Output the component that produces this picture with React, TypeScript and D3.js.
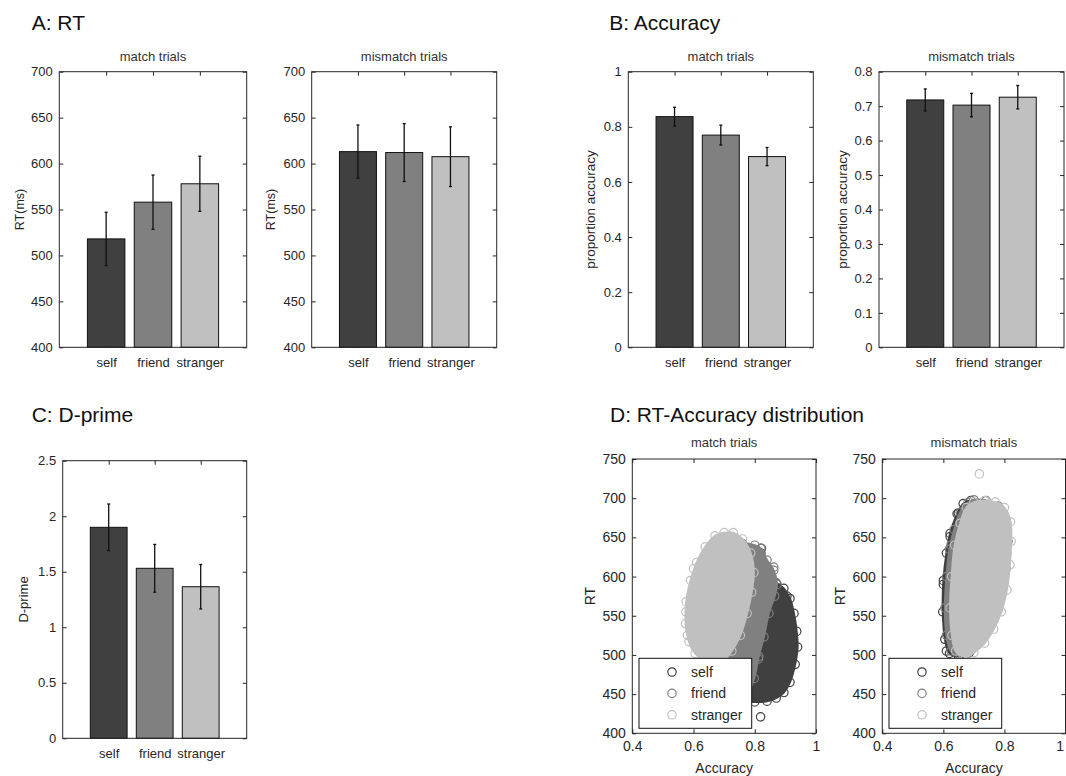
import React, { useRef, useEffect } from "react";
import * as d3 from "d3";

const groups = ["self", "friend", "stranger"];
const groupColors = ["#404040", "#808080", "#c0c0c0"];

// A: RT (ms)
const rtTicks = [400, 450, 500, 550, 600, 650, 700];
const rtMatch = [518, 558, 578];
const rtMatchErr = [29, 29.5, 30];
const rtMismatch = [613, 612, 607.5];
const rtMismatchErr = [29, 31.5, 32.5];

// B: accuracy
const accTicks = [0, 0.2, 0.4, 0.6, 0.8, 1];
const accMisTicks = [0, 0.1, 0.2, 0.3, 0.4, 0.5, 0.6, 0.7, 0.8];
const accMatch = [0.837, 0.77, 0.692];
const accMatchErr = [0.034, 0.036, 0.033];
const accMismatch = [0.718, 0.703, 0.726];
const accMismatchErr = [0.032, 0.034, 0.034];

// C: d-prime
const dprimeTicks = [0, 0.5, 1, 1.5, 2, 2.5];
const dprime = [1.9, 1.531, 1.365];
const dprimeErr = [0.21, 0.215, 0.2];

// D: scatter, cloud outlines [accuracy, RT]
const scatterRtTicks = [400, 450, 500, 550, 600, 650, 700, 750];
const scatterAccTicks = [0.4, 0.6, 0.8, 1];

const matchSelf = [
  [0.87, 592], [0.895, 585], [0.915, 572], [0.928, 553], [0.937, 530], [0.94, 510],
  [0.932, 488], [0.915, 465], [0.895, 452], [0.87, 445], [0.84, 441], [0.8, 440],
  [0.77, 442], [0.745, 452], [0.73, 475], [0.74, 510], [0.77, 550], [0.81, 578], [0.845, 592],
];
const matchFriend = [
  [0.8, 640], [0.82, 636], [0.84, 621], [0.862, 608], [0.873, 590], [0.865, 575],
  [0.846, 553], [0.83, 523], [0.813, 498], [0.798, 470], [0.775, 450], [0.745, 443],
  [0.71, 448], [0.68, 465], [0.66, 495], [0.65, 530], [0.655, 570], [0.68, 605], [0.72, 630], [0.76, 642],
];
const matchStranger = [
  [0.7, 656], [0.73, 656], [0.76, 648], [0.787, 630], [0.797, 605], [0.79, 580],
  [0.775, 553], [0.753, 525], [0.725, 505], [0.7, 494], [0.67, 490], [0.635, 493],
  [0.605, 502], [0.585, 517], [0.574, 540], [0.576, 568], [0.59, 595], [0.61, 618], [0.638, 638], [0.67, 652],
];
const matchOutliers = [
  [[0.819, 421], [0.822, 636], [0.82, 630], [0.905, 575]],
  [[0.812, 495], [0.862, 612]],
  [[0.575, 555], [0.58, 525], [0.6, 610]],
];

const misSelf = [
  [0.69, 697], [0.73, 693], [0.77, 685], [0.795, 668], [0.8, 640], [0.795, 605],
  [0.78, 570], [0.755, 540], [0.72, 518], [0.685, 503], [0.65, 498], [0.62, 502],
  [0.605, 520], [0.598, 555], [0.6, 595], [0.61, 630], [0.622, 655], [0.645, 680], [0.665, 693],
];
const misFriend = [
  [0.7, 698], [0.74, 697], [0.78, 690], [0.805, 672], [0.812, 645], [0.805, 610],
  [0.79, 575], [0.765, 545], [0.73, 522], [0.69, 506], [0.655, 500], [0.625, 505],
  [0.61, 525], [0.605, 560], [0.61, 600], [0.62, 635], [0.635, 660], [0.655, 682], [0.68, 694],
];
const misStranger = [
  [0.7, 695], [0.735, 697], [0.77, 695], [0.8, 688], [0.82, 670], [0.822, 645],
  [0.818, 615], [0.808, 583], [0.79, 555], [0.765, 533], [0.735, 515], [0.7, 503],
  [0.665, 498], [0.64, 505], [0.628, 525], [0.622, 560], [0.627, 600], [0.637, 640], [0.655, 668], [0.675, 688],
];
const misOutliers = [
  [[0.649, 681], [0.622, 651], [0.6, 590], [0.61, 505]],
  [[0.625, 640], [0.62, 545]],
  [[0.718, 731], [0.68, 503]],
];

const FONT = "'Liberation Sans', Arial, sans-serif";
const INK = "#262626";

const styleAxis = (sel, size) => {
  sel.select(".domain").remove();
  sel.selectAll("line").attr("stroke", INK).attr("stroke-width", 1);
  sel
    .selectAll("text")
    .attr("font-size", size)
    .attr("font-family", FONT)
    .attr("fill", INK);
};

// inward ticks on all four sides, MATLAB style
const drawAxes = (g, x, y, xticks, xlabels, yticks, fs, xfs, xPad) => {
  const [x0, x1] = x.range();
  const [y1, y0] = y.range();
  g.append("g")
    .attr("transform", `translate(${x0},0)`)
    .call(d3.axisLeft(y).tickValues(yticks).tickSizeInner(-4).tickSizeOuter(0).tickPadding(6.5).tickFormat((d) => String(d)))
    .call((s) => styleAxis(s, fs));
  g.append("g")
    .attr("transform", `translate(${x1},0)`)
    .call(d3.axisRight(y).tickValues(yticks).tickSizeInner(-4).tickSizeOuter(0).tickFormat(() => ""))
    .call((s) => styleAxis(s, fs));
  g.append("g")
    .attr("transform", `translate(0,${y0})`)
    .call(d3.axisTop(x).tickValues(xticks).tickSizeInner(-4).tickSizeOuter(0).tickFormat(() => ""))
    .call((s) => styleAxis(s, fs));
  const bx = g
    .append("g")
    .attr("transform", `translate(0,${y1})`)
    .call(d3.axisBottom(x).tickValues(xticks).tickSizeInner(-4).tickSizeOuter(0).tickPadding(xPad).tickFormat((d, i) => xlabels[i]))
    .call((s) => styleAxis(s, xfs));
  // keep a label at the page's right edge inside the page
  bx.selectAll(".tick").each(function () {
    const t = d3.select(this);
    const tx = +t.attr("transform").match(/translate\(([-\d.]+)/)[1];
    if (tx > 1058) t.select("text").attr("text-anchor", "end").attr("x", 1064 - tx);
  });
};

const drawBox = (g, x, y) => {
  const [x0, x1] = x.range();
  const [y1, y0] = y.range();
  g.append("rect")
    .attr("x", x0)
    .attr("y", y0)
    .attr("width", x1 - x0)
    .attr("height", y1 - y0)
    .attr("fill", "none")
    .attr("stroke", INK)
    .attr("stroke-width", 1);
};

const drawTitle = (g, x, y, text, dy) => {
  const [x0, x1] = x.range();
  const [, y0] = y.range();
  g.append("text")
    .attr("x", (x0 + x1) / 2)
    .attr("y", y0 - dy)
    .attr("text-anchor", "middle")
    .attr("font-family", FONT)
    .attr("font-size", 13)
    .attr("fill", "#333")
    .text(text);
};

const drawYLabel = (g, cx, cy, text, size) => {
  g.append("text")
    .attr("transform", `translate(${cx},${cy}) rotate(-90)`)
    .attr("text-anchor", "middle")
    .attr("dy", "0.35em")
    .attr("font-family", FONT)
    .attr("font-size", size)
    .attr("fill", INK)
    .text(text);
};

const drawBarPanel = (svg, p) => {
  const [left, top, right, bottom] = p.box;
  const x = d3.scaleLinear().domain([0, 4]).range([left, right]);
  const y = d3.scaleLinear().domain(p.ylim).range([bottom, top]);
  const g = svg.append("g");
  const bw = x(0.8) - x(0);

  drawAxes(g, x, y, [1, 2, 3], groups, p.yticks, 13, 13, 10);

  g.selectAll("rect.bar")
    .data(p.values)
    .join("rect")
    .attr("class", "bar")
    .attr("x", (d, i) => x(i + 1) - bw / 2)
    .attr("y", (d) => y(d))
    .attr("width", bw)
    .attr("height", (d) => y(p.ylim[0]) - y(d))
    .attr("fill", (d, i) => groupColors[i])
    .attr("stroke", "#111")
    .attr("stroke-width", 1);

  const eb = g
    .selectAll("g.err")
    .data(p.values)
    .join("g")
    .attr("class", "err")
    .attr("stroke", "#111")
    .attr("stroke-width", 1.3);
  eb.append("line")
    .attr("x1", (d, i) => x(i + 1))
    .attr("x2", (d, i) => x(i + 1))
    .attr("y1", (d, i) => y(d - p.errors[i]))
    .attr("y2", (d, i) => y(d + p.errors[i]));
  [-1, 1].forEach((s) => {
    eb.append("line")
      .attr("x1", (d, i) => x(i + 1) - 1.5)
      .attr("x2", (d, i) => x(i + 1) + 1.5)
      .attr("y1", (d, i) => y(d + s * p.errors[i]))
      .attr("y2", (d, i) => y(d + s * p.errors[i]));
  });

  drawBox(g, x, y);
  if (p.title) drawTitle(g, x, y, p.title, 10.5);
  drawYLabel(g, p.ylabelX, (top + bottom) / 2, p.ylabel, p.ylabelSize);
};

const drawScatterPanel = (svg, p) => {
  const [left, top, right, bottom] = p.box;
  const x = d3.scaleLinear().domain([0.4, 1]).range([left, right]);
  const y = d3.scaleLinear().domain([400, 750]).range([bottom, top]);
  const g = svg.append("g");

  drawAxes(g, x, y, scatterAccTicks, scatterAccTicks.map(String), scatterRtTicks, 14, 14, 7.5);

  const line = d3
    .line()
    .x((d) => x(d[0]))
    .y((d) => y(d[1]))
    .curve(d3.curveCatmullRomClosed);

  p.clouds.forEach((cloud, i) => {
    g.append("path")
      .attr("d", line(cloud))
      .attr("fill", groupColors[i])
      .attr("stroke", groupColors[i])
      .attr("stroke-width", 2);
    g.selectAll(null)
      .data(cloud.concat(p.outliers[i]))
      .join("circle")
      .attr("cx", (d) => x(d[0]))
      .attr("cy", (d) => y(d[1]))
      .attr("r", 4.2)
      .attr("fill", "none")
      .attr("stroke", groupColors[i])
      .attr("stroke-width", 1.2);
  });

  drawBox(g, x, y);
  drawTitle(g, x, y, p.title, 12);
  drawYLabel(g, left - 42, (top + bottom) / 2, "RT", 14);
  g.append("text")
    .attr("x", (left + right) / 2)
    .attr("y", bottom + 40)
    .attr("text-anchor", "middle")
    .attr("font-family", FONT)
    .attr("font-size", 14)
    .attr("fill", INK)
    .text("Accuracy");

  // legend
  const lg = g.append("g").attr("transform", `translate(${left + 6.7},${bottom - 75})`);
  lg.append("rect")
    .attr("width", 112.7)
    .attr("height", 70)
    .attr("fill", "white")
    .attr("stroke", "#111")
    .attr("stroke-width", 1);
  groups.forEach((name, i) => {
    const ry = 13.7 + i * 21.4;
    lg.append("circle")
      .attr("cx", 33)
      .attr("cy", ry)
      .attr("r", 4.2)
      .attr("fill", "none")
      .attr("stroke", groupColors[i])
      .attr("stroke-width", 1.2);
    lg.append("text")
      .attr("x", 52)
      .attr("y", ry + 5)
      .attr("font-family", FONT)
      .attr("font-size", 14)
      .attr("fill", INK)
      .text(name);
  });
};

const App = () => {
  const svgRef = useRef();

  useEffect(() => {
    const svg = d3.select(svgRef.current);
    svg.selectAll("*").remove();

    const heads = [
      ["A: RT", 31.7, 30],
      ["B: Accuracy", 609.3, 30],
      ["C: D-prime", 31.7, 421.7],
      ["D: RT-Accuracy distribution", 610, 421.7],
    ];
    heads.forEach(([t, hx, hy]) => {
      svg.append("text")
        .attr("x", hx)
        .attr("y", hy)
        .attr("font-family", FONT)
        .attr("font-size", 21)
        .attr("fill", "#111")
        .text(t);
    });

    drawBarPanel(svg, {
      box: [59.3, 71.7, 246.7, 347.3], ylim: [400, 700], yticks: rtTicks,
      values: rtMatch, errors: rtMatchErr, title: "match trials",
      ylabel: "RT(ms)", ylabelX: 20, ylabelSize: 12.5,
    });
    drawBarPanel(svg, {
      box: [311.7, 71.7, 496.7, 347.3], ylim: [400, 700], yticks: rtTicks,
      values: rtMismatch, errors: rtMismatchErr, title: "mismatch trials",
      ylabel: "RT(ms)", ylabelX: 271, ylabelSize: 12.5,
    });
    drawBarPanel(svg, {
      box: [628.3, 71.7, 813.3, 347.3], ylim: [0, 1], yticks: accTicks,
      values: accMatch, errors: accMatchErr, title: "match trials",
      ylabel: "proportion accuracy", ylabelX: 590, ylabelSize: 13.5,
    });
    drawBarPanel(svg, {
      box: [879, 71.7, 1064, 347.3], ylim: [0, 0.8], yticks: accMisTicks,
      values: accMismatch, errors: accMismatchErr, title: "mismatch trials",
      ylabel: "proportion accuracy", ylabelX: 842, ylabelSize: 13.5,
    });
    drawBarPanel(svg, {
      box: [62.7, 460.7, 246.7, 738.3], ylim: [0, 2.5], yticks: dprimeTicks,
      values: dprime, errors: dprimeErr, title: null,
      ylabel: "D-prime", ylabelX: 23.5, ylabelSize: 13,
    });

    drawScatterPanel(svg, {
      box: [632.3, 459, 816, 733.3], title: "match trials",
      clouds: [matchSelf, matchFriend, matchStranger], outliers: matchOutliers,
    });
    drawScatterPanel(svg, {
      box: [882.3, 459, 1065.5, 733.3], title: "mismatch trials",
      clouds: [misSelf, misFriend, misStranger], outliers: misOutliers,
    });
  }, []);

  return (
    <svg
      ref={svgRef}
      width={1066}
      height={776}
      style={{ position: "absolute", left: 0, top: 0, background: "white" }}
    ></svg>
  );
};

export default App;
